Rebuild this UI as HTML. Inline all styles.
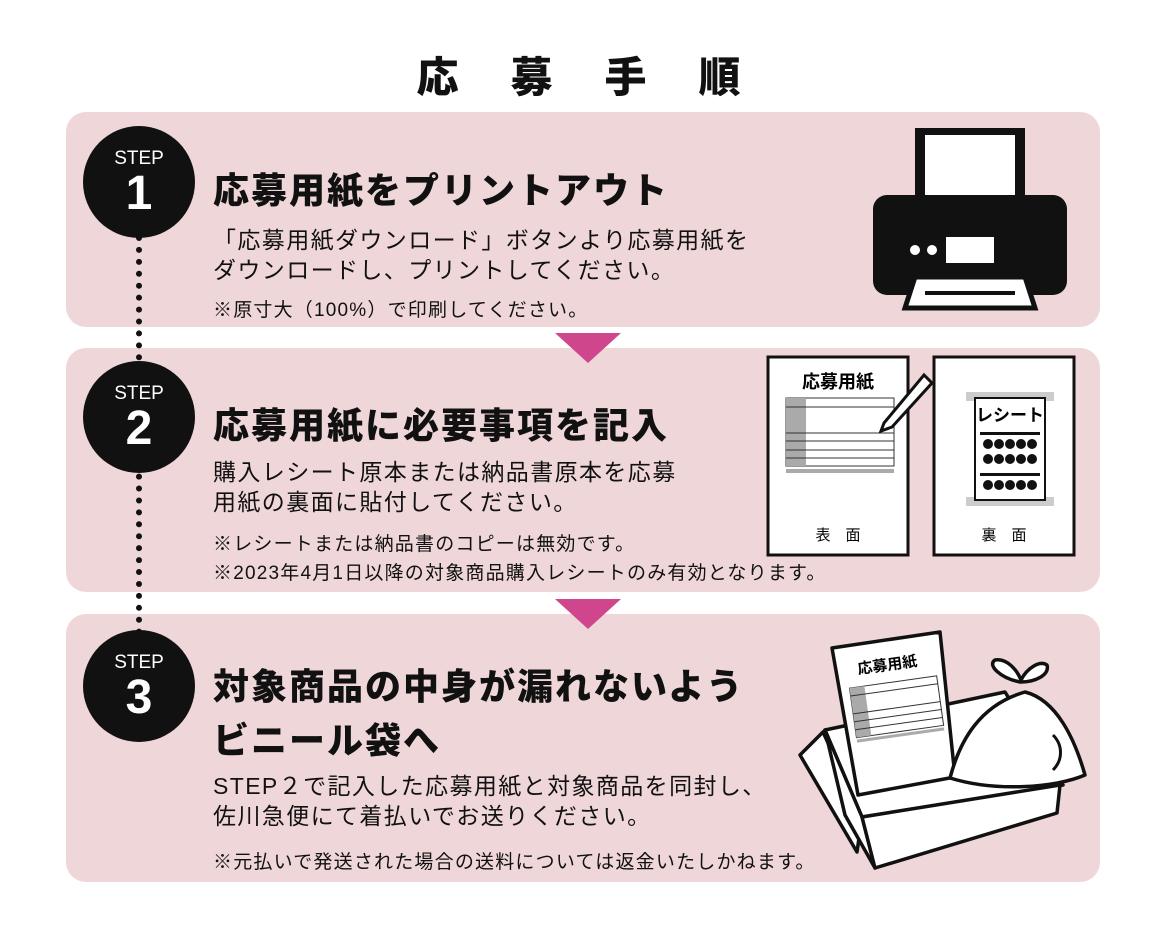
<!DOCTYPE html>
<html><head><meta charset="utf-8"><style>
body{margin:0;width:1169px;height:931px;background:#fff;position:relative;overflow:hidden;font-family:"Liberation Sans","Noto Sans CJK JP",sans-serif;color:#111}
.p{position:absolute;left:66px;width:1034px;background:#efd6d9;border-radius:20px}
.t{position:absolute;white-space:nowrap}
.h{font-size:36px;font-weight:900;letter-spacing:2px}
.b{font-size:23px;line-height:30px;letter-spacing:1.4px}
.n{font-size:19px;letter-spacing:1.2px}
.c{position:absolute;width:112px;height:112px;border-radius:50%;background:#111;color:#fff;text-align:center}
.c .s{position:absolute;top:22px;width:100%;font-size:19px;font-family:"Liberation Sans",sans-serif}
.c .d{position:absolute;top:40px;width:100%;font-size:48px;font-weight:bold;font-family:"Liberation Sans",sans-serif}
.tri{position:absolute;width:0;height:0;border-left:33px solid transparent;border-right:33px solid transparent;border-top:30px solid #d0468c}
</style></head><body>
<div class="t" style="left:0;width:1169px;text-align:center;top:44px;font-size:42px;font-weight:900;letter-spacing:52px;text-indent:40px">応募手順</div>
<div class="p" style="top:112px;height:215px"></div>
<div class="p" style="top:348px;height:244px"></div>
<div class="p" style="top:614px;height:268px"></div>
<div class="tri" style="left:555px;top:333px"></div>
<div class="tri" style="left:555px;top:599px"></div>
<div style="position:absolute;left:136px;top:235px;height:400px;border-left:6px dotted #111"></div>
<div class="c" style="left:83px;top:126px"><div class="s">STEP</div><div class="d">1</div></div>
<div class="c" style="left:83px;top:361px"><div class="s">STEP</div><div class="d">2</div></div>
<div class="c" style="left:83px;top:630px"><div class="s">STEP</div><div class="d">3</div></div>

<div class="t h" style="left:213px;top:162px">応募用紙をプリントアウト</div>
<div class="t b" style="left:213px;top:225px">「応募用紙ダウンロード」ボタンより応募用紙を<br>ダウンロードし、プリントしてください。</div>
<div class="t n" style="left:213px;top:295px">※原寸大（100%）で印刷してください。</div>

<div class="t h" style="left:213px;top:397px">応募用紙に必要事項を記入</div>
<div class="t b" style="left:213px;top:457px">購入レシート原本または納品書原本を応募<br>用紙の裏面に貼付してください。</div>
<div class="t n" style="left:213px;top:530px;line-height:29px">※レシートまたは納品書のコピーは無効です。<br>※2023年4月1日以降の対象商品購入レシートのみ有効となります。</div>

<div class="t h" style="left:213px;top:660px;line-height:54px">対象商品の中身が漏れないよう<br>ビニール袋へ</div>
<div class="t b" style="left:213px;top:771px">STEP２で記入した応募用紙と対象商品を同封し、<br>佐川急便にて着払いでお送りください。</div>
<div class="t n" style="left:213px;top:847px">※元払いで発送された場合の送料については返金いたしかねます。</div>

<!-- printer -->
<svg style="position:absolute;left:870px;top:125px" width="200" height="190">
<rect x="45" y="3" width="110" height="80" fill="#111"/><rect x="55" y="10" width="90" height="70" fill="#fff"/>
<rect x="3" y="70" width="194" height="100" rx="14" fill="#111"/>
<circle cx="45" cy="125" r="5" fill="#fff"/><circle cx="62" cy="125" r="5" fill="#fff"/>
<rect x="76" y="112" width="48" height="26" fill="#fff"/>
<polygon points="35,183 165,183 155,152 45,152" fill="#fff" stroke="#111" stroke-width="5"/>
<rect x="55" y="166" width="90" height="4" fill="#111"/>
</svg>
<!-- forms -->
<svg style="position:absolute;left:766px;top:355px" width="312" height="203">
<rect x="2" y="2" width="140" height="198" fill="#fff" stroke="#111" stroke-width="3"/>
<text x="72" y="33" font-size="18" font-weight="bold" text-anchor="middle" font-family="Noto Sans CJK JP">応募用紙</text>
<rect x="20" y="43" width="108" height="68" fill="#fff" stroke="#333"/>
<rect x="20" y="43" width="20" height="68" fill="#aaa"/>
<g stroke="#333"><line x1="20" y1="52" x2="128" y2="52"/><line x1="20" y1="78" x2="128" y2="78"/><line x1="20" y1="86" x2="128" y2="86"/><line x1="20" y1="95" x2="128" y2="95"/><line x1="20" y1="103" x2="128" y2="103"/></g>
<rect x="20" y="114" width="108" height="4" fill="#aaa"/>
<polygon points="118,68 158,20 166,28 126,72 115,76" fill="#fff" stroke="#111" stroke-width="3"/>
<text x="72" y="185" font-size="15" text-anchor="middle" font-family="Noto Sans CJK JP">表　面</text>
<rect x="168" y="2" width="140" height="198" fill="#fff" stroke="#111" stroke-width="3"/>
<rect x="200" y="37" width="88" height="9" fill="#ccc"/><rect x="200" y="142" width="88" height="9" fill="#ccc"/>
<rect x="209" y="43" width="70" height="102" fill="#fff" stroke="#111" stroke-width="2"/>
<text x="244" y="66" font-size="17" font-weight="bold" text-anchor="middle" font-family="Noto Sans CJK JP">レシート</text>
<rect x="214" y="77" width="60" height="3" fill="#111"/><rect x="214" y="118" width="60" height="3" fill="#111"/>
<g fill="#111"><circle cx="222" cy="89" r="5"/><circle cx="233" cy="89" r="5"/><circle cx="244" cy="89" r="5"/><circle cx="255" cy="89" r="5"/><circle cx="266" cy="89" r="5"/>
<circle cx="222" cy="104" r="5"/><circle cx="233" cy="104" r="5"/><circle cx="244" cy="104" r="5"/><circle cx="255" cy="104" r="5"/><circle cx="266" cy="104" r="5"/>
<circle cx="222" cy="130" r="5"/><circle cx="233" cy="130" r="5"/><circle cx="244" cy="130" r="5"/><circle cx="255" cy="130" r="5"/><circle cx="266" cy="130" r="5"/></g>
<text x="238" y="185" font-size="15" text-anchor="middle" font-family="Noto Sans CJK JP">裏　面</text>
</svg>
<!-- box -->
<svg style="position:absolute;left:795px;top:620px" width="300" height="260">
<g stroke="#111" stroke-width="3.5" stroke-linejoin="round" fill="#fff">
<polygon points="30,110 210,72 268,165 67,197"/>
<polygon points="5,135 28,112 67,197 62,232"/>
<polygon points="30,110 67,197 80,248 50,195"/>
<polygon points="67,197 265,165 262,193 80,248"/>
<polygon points="37,28 145,12 160,157 63,175"/>
<path d="M155,158 C165,120 185,85 230,72 C262,80 280,120 290,155 C260,168 200,172 155,158 Z"/>
<path d="M225,62 C205,58 192,45 200,40 C212,38 222,50 226,60 C232,48 245,40 252,45 C255,55 240,62 226,62 Z"/>
</g>
<path d="M258,115 C268,125 268,140 258,150" stroke="#111" stroke-width="3" fill="none"/>
<text x="93" y="50" font-size="15" font-weight="bold" text-anchor="middle" font-family="Noto Sans CJK JP" transform="rotate(-8 93 50)">応募用紙</text>
<g transform="rotate(-8 100 90)"><rect x="58" y="62" width="88" height="50" fill="#fff" stroke="#333"/><rect x="58" y="62" width="15" height="50" fill="#aaa"/><g stroke="#333"><line x1="58" y1="70" x2="146" y2="70"/><line x1="58" y1="88" x2="146" y2="88"/><line x1="58" y1="96" x2="146" y2="96"/><line x1="58" y1="104" x2="146" y2="104"/></g><rect x="58" y="114" width="88" height="3" fill="#aaa"/></g>
</svg>
</body></html>
